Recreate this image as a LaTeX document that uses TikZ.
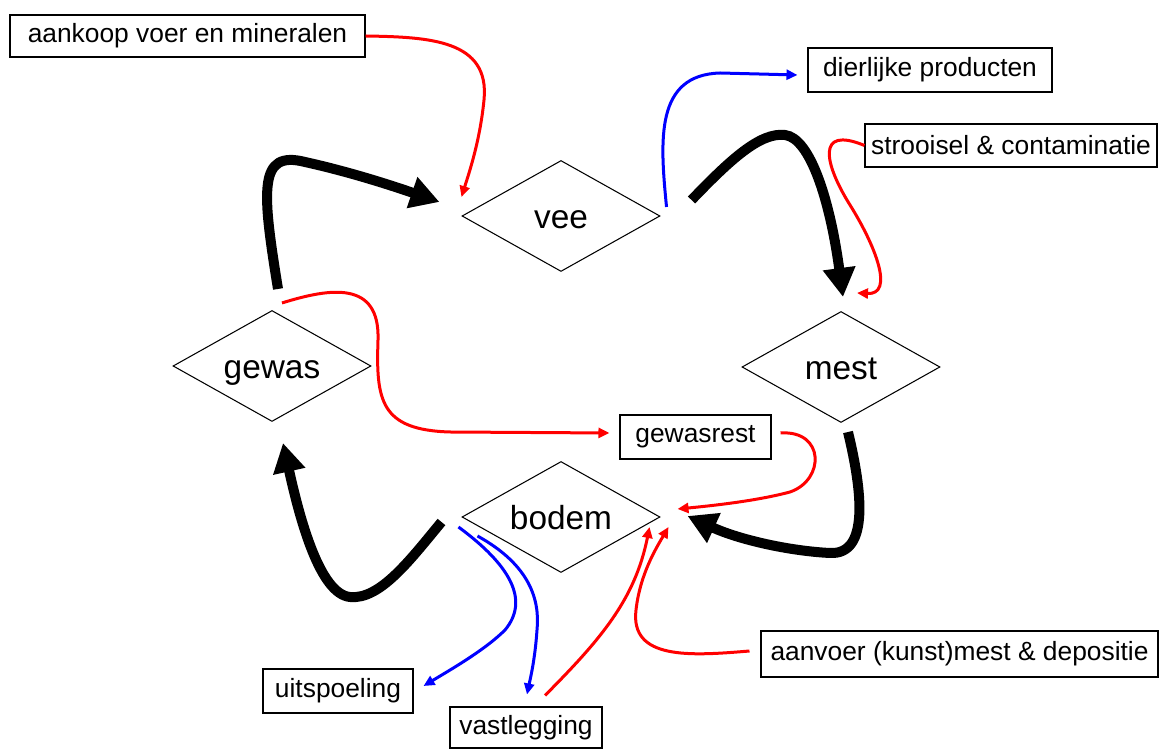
\documentclass[tikz,border=0pt]{standalone}
\usepackage{fontspec}
\setmainfont{Liberation Sans}
\usepackage{tikz}
\usetikzlibrary{arrows.meta,shapes.geometric}

\tikzset{
ruit/.style={draw,shape=diamond,shape aspect=1.77,line width=0.6pt,inner sep=0pt,text height=14pt,text depth=0pt,minimum width=3.96cm,minimum height=2.22cm,font=\fontsize{19}{22}\selectfont},
blok/.style={draw,rectangle,line width=0.6pt,inner sep=0pt,font=\fontsize{15}{18}\selectfont},
zwart/.style={line width=0.2cm,-{Triangle[length=0.58cm,width=0.62cm]}},
rood/.style={red,line width=0.06cm,-{Triangle[length=0.22cm,width=0.2cm]}},
blauw/.style={blue,line width=0.06cm,-{Triangle[length=0.22cm,width=0.2cm]}}
}

\begin{document}
\begin{tikzpicture}
\useasboundingbox (0,0) rectangle (23.26,14.98);
\node[ruit] (vee) at (11.22,10.66) {vee};
\node[ruit] (mest) at (16.82,7.64) {mest};
\node[ruit] (gewas) at (5.44,7.66) {gewas};
\node[ruit] (bodem) at (11.22,4.64) {bodem};

\node[blok,minimum width=7.1cm,minimum height=0.84cm] (aankoop) at (3.75,14.26) {aankoop voer en mineralen};
\node[blok,minimum width=4.88cm,minimum height=0.88cm] (dierlijk) at (18.6,13.58) {dierlijke producten};
\node[blok,minimum width=5.84cm,minimum height=0.86cm] (strooisel) at (20.22,12.07) {strooisel \& contaminatie};
\node[blok,minimum width=3.02cm,minimum height=0.88cm] (gewasrest) at (13.91,6.24) {gewasrest};
\node[blok,minimum width=7.94cm,minimum height=0.92cm] (aanvoer) at (19.19,1.9) {aanvoer (kunst)mest \& depositie};
\node[blok,minimum width=3.0cm,minimum height=0.88cm] (uitspoeling) at (6.76,1.16) {uitspoeling};
\node[blok,minimum width=3.04cm,minimum height=0.82cm] (vastlegging) at (10.52,0.43) {vastlegging};

% kringloop
\draw[zwart] ([shift={(0.12,0.42)}]gewas.north) .. controls (5.24,11.18) and (5.16,11.98) .. (6.1,11.74)
  .. controls (7.0,11.54) and (7.8,11.28) .. ([shift={(-0.44,0.28)}]vee.west);
\draw[zwart] ([shift={(0.62,0.32)}]vee.east) .. controls (14.6,11.78) and (15.2,12.34) .. (15.7,12.28)
  .. controls (16.2,12.22) and (16.6,10.98) .. ([shift={(0.04,0.28)}]mest.north);
\draw[zwart] ([shift={(0.14,-0.18)}]mest.south) .. controls (17.24,5.18) and (17.4,3.88) .. (16.6,3.92)
  .. controls (15.8,3.96) and (14.8,4.18) .. ([shift={(0.54,0.02)}]bodem.east);
\draw[zwart] ([shift={(-0.4,-0.1)}]bodem.west) .. controls (8.2,3.78) and (7.6,2.98) .. (7.0,3.04)
  .. controls (6.4,3.1) and (6.0,4.58) .. ([shift={(0.22,-0.42)}]gewas.south);

% aanvoer
\draw[rood] (aankoop.east) .. controls (8.6,14.24) and (9.8,14.18) .. (9.68,12.98)
  .. controls (9.6,12.18) and (9.4,11.58) .. ([shift={(0,0.38)}]vee.west);
\draw[rood] (strooisel.west) .. controls (16.3,12.48) and (16.5,11.68) .. (17.0,10.88)
  .. controls (17.5,10.08) and (17.9,9.08) .. ([shift={(0.32,0.36)}]mest.north);
\draw[rood] ([shift={(0.2,0.14)}]gewas.north) .. controls (6.6,9.22) and (7.6,9.38) .. (7.56,8.18)
  .. controls (7.52,6.98) and (7.6,6.38) .. (9.0,6.34) -- ([shift={(-0.2,0.08)}]gewasrest.west);
\draw[rood] ([shift={(0.18,0.08)}]gewasrest.east) .. controls (16.5,6.38) and (16.5,5.38) .. (15.8,5.14)
  .. controls (15.2,4.98) and (14.4,4.88) .. ([shift={(0.34,0.16)}]bodem.east);
\draw[rood] ([shift={(0.38,0.22)}]vastlegging.north) .. controls (12.0,2.18) and (12.7,2.98) .. ([shift={(-0.22,-0.2)}]bodem.east);
\draw[rood] ([shift={(-0.22,0.06)}]aanvoer.west) .. controls (13.8,1.86) and (12.6,1.78) .. (12.72,2.78)
  .. controls (12.8,3.48) and (13.1,3.98) .. ([shift={(0.16,-0.2)}]bodem.east);

% afvoer
\draw[blauw] ([shift={(0.12,0.18)}]vee.east) .. controls (13.2,12.18) and (13.1,13.48) .. (14.4,13.52)
  -- ([shift={(-0.2,-0.1)}]dierlijk.west);
\draw[blauw] ([shift={(-0.06,-0.2)}]bodem.west) .. controls (10.2,3.68) and (10.6,2.98) .. (10.1,2.38)
  .. controls (9.7,1.98) and (9.0,1.58) .. ([shift={(0.2,0.1)}]uitspoeling.east);
\draw[blauw] ([shift={(0.32,-0.38)}]bodem.west) .. controls (10.6,3.68) and (10.8,2.98) .. (10.74,2.38)
  .. controls (10.7,1.78) and (10.6,1.38) .. ([shift={(0.02,0.24)}]vastlegging.north);
\end{tikzpicture}
\end{document}
